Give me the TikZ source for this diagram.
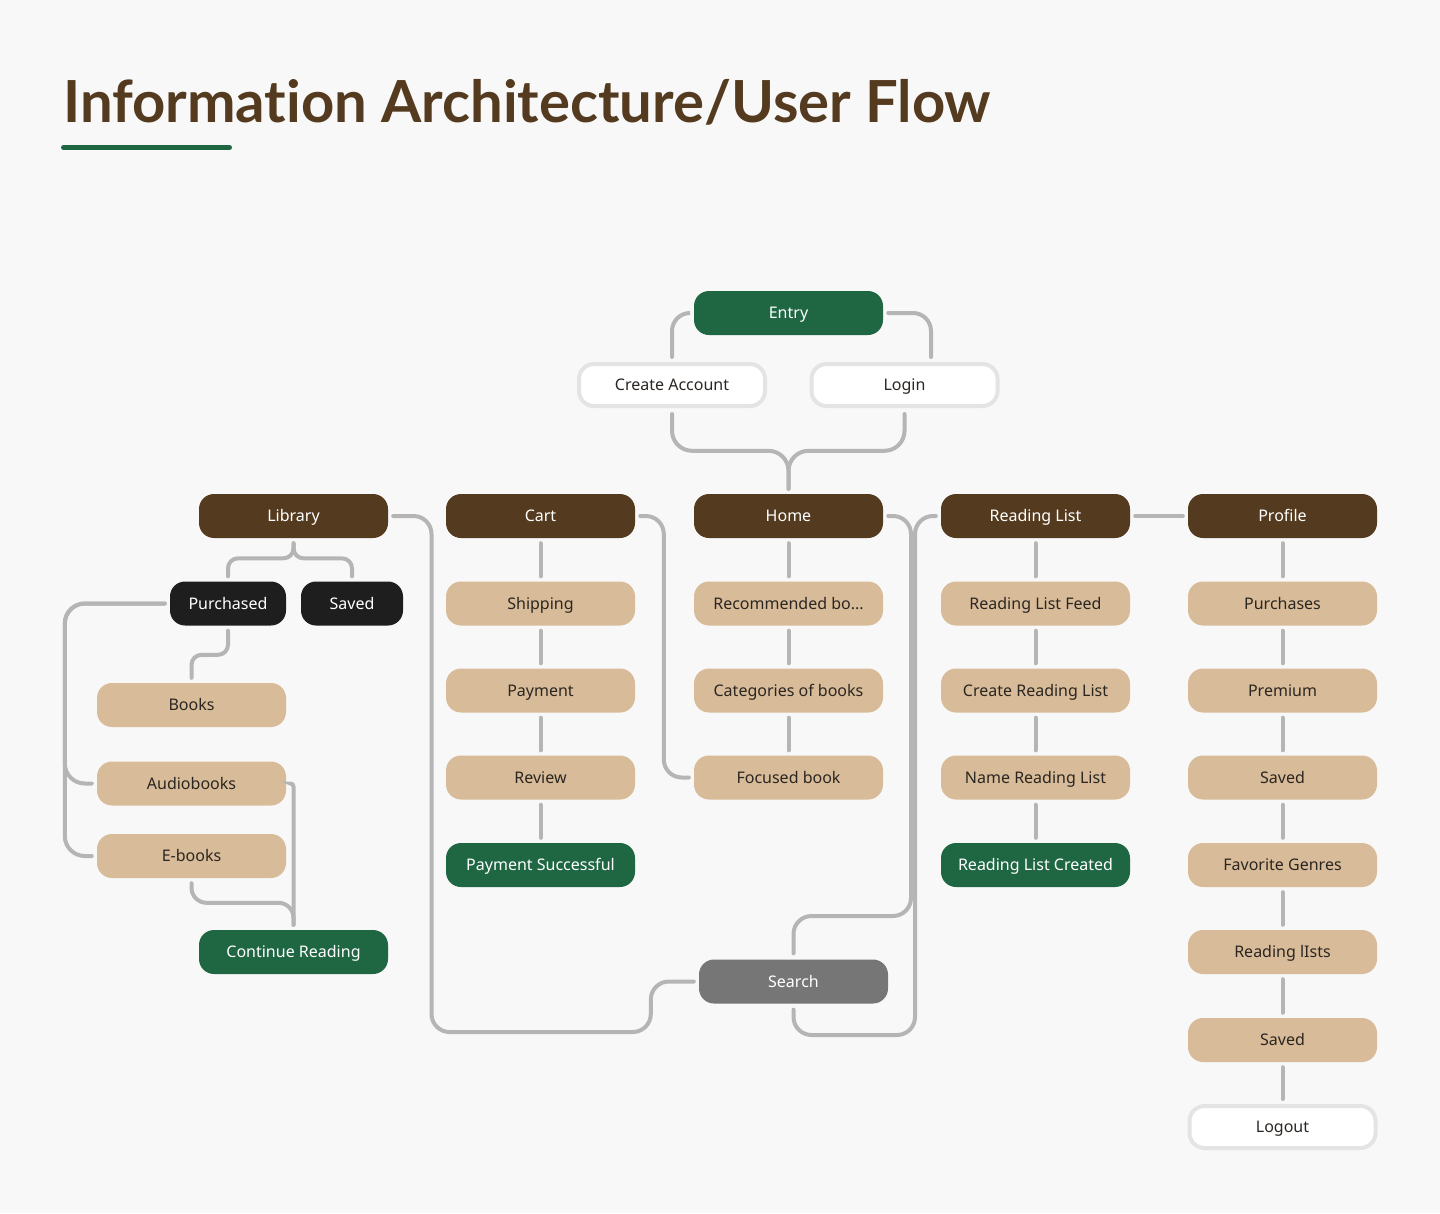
\documentclass[tikz,border=0pt]{standalone}
\usepackage{fontspec}
\setmainfont{Noto Sans}
\newfontfamily\titlefont{Lato}[Ligatures={NoCommon,NoContextual}]
\usetikzlibrary{positioning}

\definecolor{pagebg}{HTML}{F8F8F8}
\definecolor{iabrown}{HTML}{543B1F}
\definecolor{iagreen}{HTML}{1F6643}
\definecolor{iatan}{HTML}{D8BB98}
\definecolor{iablack}{HTML}{1E1E1E}
\definecolor{iagrey}{HTML}{767676}
\definecolor{linkgrey}{HTML}{B5B5B5}
\definecolor{edgegrey}{HTML}{E4E4E4}
\definecolor{darktext}{HTML}{2B2622}

\begin{document}
\begin{tikzpicture}[x=1pt,y=-1pt,
  box/.style={rounded corners=15pt, minimum width=189pt, minimum height=44pt, inner sep=0pt,
    text height=11.5pt, text depth=0pt, font=\fontsize{16}{19}\selectfont},
  brownbox/.style={box, fill=iabrown, text=white},
  greenbox/.style={box, fill=iagreen, text=white},
  tanbox/.style={box, fill=iatan, text=darktext},
  blackbox/.style={box, fill=iablack, text=white},
  greybox/.style={box, fill=iagrey, text=white},
  whitebox/.style={box, fill=white, draw=edgegrey, line width=4pt, minimum width=186pt, minimum height=42pt, text=darktext},
  link/.style={draw=linkgrey, line width=4pt, line cap=round, rounded corners=18pt},
]
\useasboundingbox[fill=pagebg] (0,0) rectangle (1440,1213);

% title
\node[anchor=base west, inner sep=0pt, text=iabrown, font=\titlefont\bfseries\fontsize{58}{66}\selectfont] (title) at (63,122) {Information Architecture/User Flow};
\draw[line width=5pt, line cap=round, draw=iagreen] (63.5,147.5) -- (229.5,147.5);

% entry
\node[greenbox] (entry) at (788.5,313) {Entry};
\node[whitebox] (create) at (672,385) {Create Account};
\node[whitebox] (login) at (904.5,385) {Login};

% main sections
\node[brownbox] (library) at (293.5,516) {Library};
\node[brownbox] (cart) at (540.5,516) {Cart};
\node[brownbox] (home) at (788.5,516) {Home};
\node[brownbox] (rlist) at (1035.5,516) {Reading List};
\node[brownbox] (profile) at (1282.5,516) {Profile};

% library
\node[blackbox, minimum width=116pt] (purchased) at (228,603.5) {Purchased};
\node[blackbox, minimum width=102pt] (saved) at (352,603.5) {Saved};
\node[tanbox] (books) at (191.5,705) {Books};
\node[tanbox] (audio) at (191.5,783.5) {Audiobooks};
\node[tanbox] (ebooks) at (191.5,856) {E-books};
\node[greenbox] (cont) at (293.5,952) {Continue Reading};

% cart
\node[tanbox] (shipping) at (540.5,603.5) {Shipping};
\node[tanbox] (payment) at (540.5,690.5) {Payment};
\node[tanbox] (review) at (540.5,777.5) {Review};
\node[greenbox] (paid) at (540.5,865) {Payment Successful};

% home
\node[tanbox] (recom) at (788.5,603.5) {Recommended bo...};
\node[tanbox] (categ) at (788.5,690.5) {Categories of books};
\node[tanbox] (focused) at (788.5,777.5) {Focused book};
\node[greybox] (search) at (793.5,981.5) {Search};

% reading list
\node[tanbox] (feed) at (1035.5,603.5) {Reading List Feed};
\node[tanbox] (newlist) at (1035.5,690.5) {Create Reading List};
\node[tanbox] (namelist) at (1035.5,777.5) {Name Reading List};
\node[greenbox] (listdone) at (1035.5,865) {Reading List Created};

% profile
\node[tanbox] (purchases) at (1282.5,603.5) {Purchases};
\node[tanbox] (premium) at (1282.5,690.5) {Premium};
\node[tanbox] (psaved) at (1282.5,777.5) {Saved};
\node[tanbox] (genres) at (1282.5,865) {Favorite Genres};
\node[tanbox] (plists) at (1282.5,952) {Reading lIsts};
\node[tanbox] (psavedb) at (1282.5,1040) {Saved};
\node[whitebox] (logout) at (1282.5,1127) {Logout};

% turning points
\coordinate (libturn) at (431.5,1032);
\coordinate (hometurn) at (911,916);
\coordinate (rlturn) at (915,1035);

% connectors
\draw[link] ([xshift=-5pt]entry.west) -| ([yshift=5pt]create.north);
\draw[link] ([xshift=5pt]entry.east) -| ([xshift=26.5pt,yshift=5pt]login.north);
\draw[link, rounded corners=20pt] ([yshift=-6pt]create.south) |- ([yshift=43pt]home.north) -- ([yshift=5pt]home.north);
\draw[link, rounded corners=20pt] ([yshift=-6pt]login.south) |- ([yshift=43pt]home.north) -- ([yshift=5pt]home.north);

\draw[link] ([xshift=5pt]library.east) -| (libturn) -| ([xshift=-48pt]search.west) -- ([xshift=-5pt]search.west);
\draw[link] ([xshift=5pt]cart.east) -| ([xshift=-30pt]focused.west) -- ([xshift=-5pt]focused.west);
\draw[link] ([xshift=5pt]home.east) -| (hometurn) -| ([yshift=6pt]search.north);
\draw[link] ([xshift=-5pt]rlist.west) -| (rlturn) -| ([yshift=-6pt]search.south);
\draw[link] ([xshift=5pt]rlist.east) -- ([xshift=-5pt]profile.west);

\draw[link, rounded corners=10pt] ([yshift=-5pt]library.south) |- ([yshift=23pt]purchased.north) -- ([yshift=5pt]purchased.north);
\draw[link, rounded corners=10pt] ([yshift=-5pt]library.south) |- ([yshift=23pt]saved.north) -- ([yshift=5pt]saved.north);
\draw[link, rounded corners=10pt] ([yshift=-5pt]purchased.south) |- ([yshift=28pt]books.north) -- ([yshift=5pt]books.north);
\draw[link, rounded corners=20pt] ([xshift=-5pt]purchased.west) -| ([xshift=-32pt]audio.west) -- ([xshift=-5pt]audio.west);
\draw[link, rounded corners=20pt] ([xshift=-5pt]purchased.west) -| ([xshift=-32pt]ebooks.west) -- ([xshift=-5pt]ebooks.west);
\draw[link, rounded corners=3pt] ([xshift=5pt]audio.east) -| ([yshift=5pt]cont.north);
\draw[link, rounded corners=15pt] ([yshift=-5pt]ebooks.south) |- ([yshift=27pt]cont.north) -- ([yshift=5pt]cont.north);

\foreach \a/\b in {cart/shipping, shipping/payment, payment/review, review/paid,
                   home/recom, recom/categ, categ/focused,
                   rlist/feed, feed/newlist, newlist/namelist, namelist/listdone,
                   profile/purchases, purchases/premium, premium/psaved, psaved/genres,
                   genres/plists, plists/psavedb, psavedb/logout}
  \draw[link] ([yshift=-5pt]\a.south) -- ([yshift=5pt]\b.north);
\end{tikzpicture}
\end{document}
